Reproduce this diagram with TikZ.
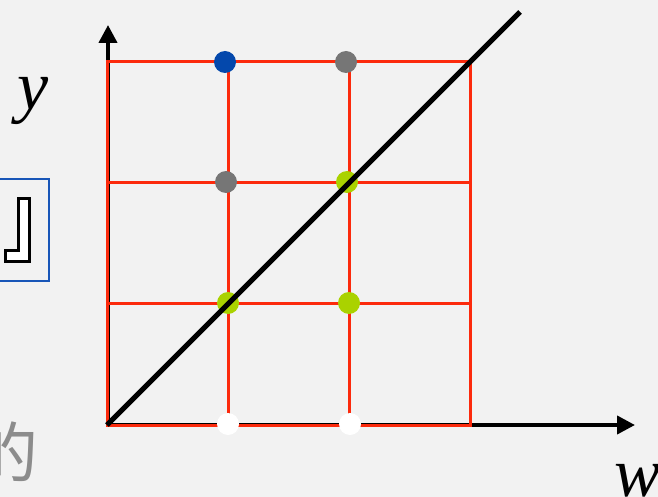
\documentclass[tikz,border=0pt]{standalone}
\usepackage{fontspec}
\newfontfamily\timesfont{Liberation Serif}
\newfontfamily\cjkfont{Noto Sans CJK SC}
\usetikzlibrary{arrows.meta}
\definecolor{bg}{RGB}{242,242,242}
\definecolor{gridred}{RGB}{252,42,12}
\definecolor{dotblue}{RGB}{4,72,172}
\definecolor{dotgray}{RGB}{118,118,118}
\definecolor{dotgreen}{RGB}{170,210,0}
\definecolor{boxblue}{RGB}{24,86,184}
\definecolor{textgray}{RGB}{140,140,140}
\begin{document}
\begin{tikzpicture}[x=1pt,y=-1pt,
  gridline/.style={draw=gridred,line width=3pt},
  axisline/.style={draw=black,line width=4pt,-{Triangle[length=18pt,width=18pt]}},
  diagline/.style={draw=black,line width=5pt},
  dot/.style={circle,inner sep=0pt,minimum size=22pt,draw=none},
  varlabel/.style={inner sep=0pt,font=\timesfont\itshape\fontsize{70}{70}\selectfont}]
\useasboundingbox (0,0) rectangle (658,497);
\fill[bg] (0,0) rectangle (658,497);
\begin{scope}
\clip (0,0) rectangle (658,497);
% axes
\coordinate (O) at (108,425);
\coordinate (ytip) at (108,25);
\coordinate (xtip) at (635,425);
\draw[axisline] (O) -- (ytip);
\draw[axisline] (O) -- (xtip);
% grid
\coordinate (g00) at (107,425);
\coordinate (g33) at (470,62);
\draw[gridline] (g00) rectangle (g33);
\coordinate (v1b) at (228,425); \coordinate (v1t) at (228,62);
\coordinate (v2b) at (349,425); \coordinate (v2t) at (349,62);
\coordinate (h1l) at (107,303); \coordinate (h1r) at (470,303);
\coordinate (h2l) at (107,183); \coordinate (h2r) at (470,183);
\draw[gridline] (v1b) -- (v1t);
\draw[gridline] (v2b) -- (v2t);
\draw[gridline] (h1l) -- (h1r);
\draw[gridline] (h2l) -- (h2r);
% dots
\node[dot,fill=dotblue]  (d13) at (225,62) {};
\node[dot,fill=dotgray]  (d23) at (346,62) {};
\node[dot,fill=dotgray]  (d12) at (226,182) {};
\node[dot,fill=dotgreen] (d22) at (347,182) {};
\node[dot,fill=dotgreen] (d11) at (228,303) {};
\node[dot,fill=dotgreen] (d21) at (349,303) {};
\node[dot,fill=white]    (d10) at (228,424) {};
\node[dot,fill=white]    (d20) at (350,424) {};
% diagonal
\coordinate (dO) at (107,425);
\coordinate (dend) at (520,12);
\draw[diagline] (dO) -- (dend);
% labels
\node[varlabel,anchor=base west] (ylab) at (17,110) {y};
\node[varlabel,anchor=base west] (wlab) at (614,496) {w};
% left blue box with outlined glyph
\draw[boxblue,line width=2.5pt] (-5,179) rectangle (49,281);
\draw[black,line width=3.5pt,fill=white] (18.5,198.5) -- (29.5,198.5) -- (29.5,261.5) -- (5.5,261.5) -- (5.5,250.5) -- (18.5,250.5) -- cycle;
% bottom-left gray character
\node[inner sep=0pt,anchor=east,text=textgray,font=\cjkfont\fontsize{66}{66}\selectfont] (chr) at (39,452) {的};
\end{scope}
\end{tikzpicture}
\end{document}
